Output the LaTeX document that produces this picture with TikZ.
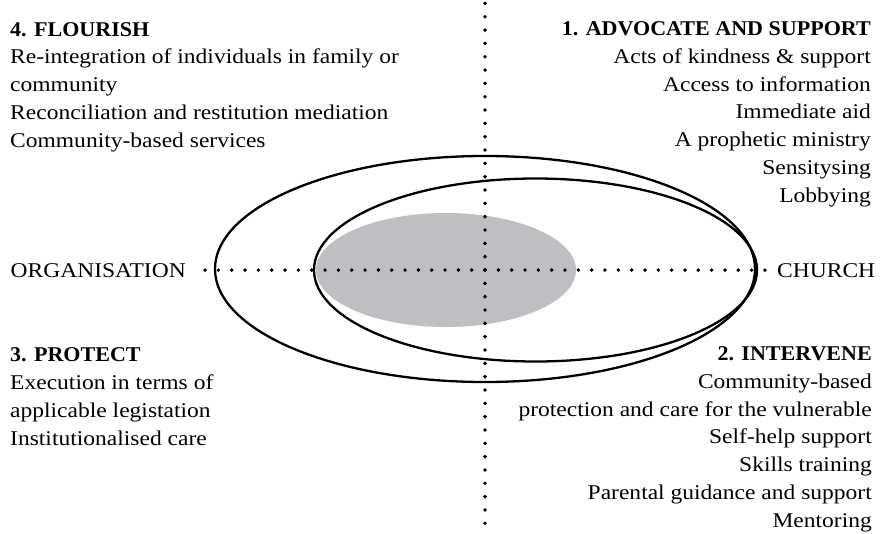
\documentclass[tikz,border=0pt]{standalone}
\usepackage{fontspec}
\setmainfont{Liberation Serif}[FakeStretch=1.12, BoldFeatures={FakeStretch=1.05}]
\definecolor{fillgrey}{RGB}{190,191,194}
\tikzset{
  txt/.style={inner sep=0pt, font=\fontsize{21}{27.7}\selectfont},
  ring/.style={draw=black, line width=2.3pt},
  dotline/.style={line width=3.9pt, line cap=round, dash pattern=on 0pt off 13.33pt}
}

\begin{document}
\begin{tikzpicture}[x=1pt, y=-1pt]
\useasboundingbox (0,0) rectangle (883,533);

% centre and ends of the axes
\coordinate (ctr) at (485,270);
\coordinate (top) at (485,3);
\coordinate (bot) at (485,530);

% the three ellipses
\fill[fillgrey] (446,270) ellipse [x radius=130pt, y radius=57pt];
\draw[ring] (485,269) ellipse [x radius=270pt, y radius=113pt];
\draw[ring] (535.5,270) ellipse [x radius=221.5pt, y radius=91.5pt];

% axis labels
\node[txt, anchor=base east] (org) at (186,277) {ORGANISATION};
\node[txt, anchor=base west] (church) at (777,277) {CHURCH};

\draw[dotline] (ctr) -- (top);
\draw[dotline] (ctr) -- (bot);
\draw[dotline] (ctr) -- ([xshift=14pt]org.east);
\draw[dotline] (ctr) -- ([xshift=-7pt]church.west);

% quadrant texts (base = last line)
\node[txt, anchor=base west, align=left] (flourish) at (10,147)
  {\textbf{4. FLOURISH}\\
   Re-integration of individuals in family or\\
   community\\
   Reconciliation and restitution mediation\\
   Community-based services};

\node[txt, anchor=base east, align=right] (advocate) at (871,202)
  {\textbf{1. ADVOCATE AND SUPPORT}\\
   Acts of kindness \& support\\
   Access to information\\
   Immediate aid\\
   A prophetic ministry\\
   Sensitysing\\
   Lobbying};

\node[txt, anchor=base west, align=left] (protect) at (10,445)
  {\textbf{3. PROTECT}\\
   Execution in terms of\\
   applicable legistation\\
   Institutionalised care};

\node[txt, anchor=base east, align=right] (intervene) at (872,527)
  {\textbf{2. INTERVENE}\\
   Community-based\\
   protection and care for the vulnerable\\
   Self-help support\\
   Skills training\\
   Parental guidance and support\\
   Mentoring};
\end{tikzpicture}
\end{document}
